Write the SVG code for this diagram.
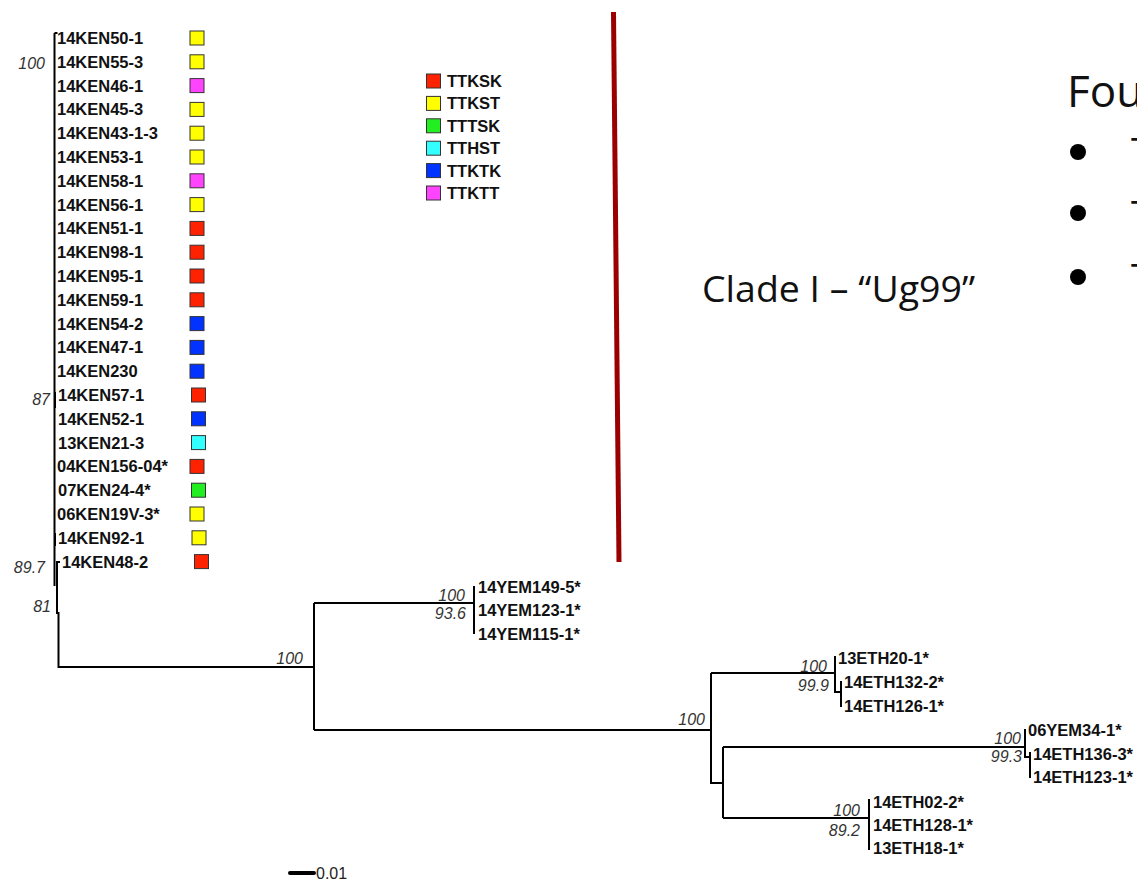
<svg xmlns="http://www.w3.org/2000/svg" width="1137" height="881" viewBox="0 0 1137 881">
<style>
.leaf{font-family:"Liberation Sans",Arial,sans-serif;font-weight:bold;font-size:16.5px;fill:#111}
.bs{font-family:"Liberation Sans",Arial,sans-serif;font-style:italic;font-size:16px;fill:#333;text-anchor:end}
.sq{stroke:#333;stroke-width:1}
.R{fill:#ff2200}.Y{fill:#ffff00}.M{fill:#ff44ff}.B{fill:#0033ff}.C{fill:#33ffff}.G{fill:#22ee22}
.br{fill:none;stroke:#000;stroke-width:2}
.big{font-family:"Open Sans","Noto Sans",sans-serif;fill:#111}
</style>
<rect width="1137" height="881" fill="#fff"/>
<g id="connectors">
<path class="br" d="M54.5,33 V586 M54.5,33 H57.5"/>
<path class="br" stroke-width="3" d="M55,392 V408 M55,533 V546"/>
<path class="br" stroke-width="2.5" d="M57,561 V614 M57,562 H60"/>
<path class="br" d="M58.5,612 V667 H314 M314,603 V730 M314,603 H474 M474,586 V634 M314,730 H711"/>
<path class="br" d="M711,673 V783 H723 M711,673 H835 M835,656 V692 H841 M841,681 V707"/>
<path class="br" d="M723,747 V818 M723,747 H1025 M1025,729 V757 H1030 M1030,752 V778"/>
<path class="br" d="M723,818 H869 M869,799 V850"/>
<path d="M290,873 H314" stroke="#000" stroke-width="4" stroke-linecap="round"/>
</g>
<g id="bootstrap">
<text class="bs" x="45" y="68.5">100</text>
<text class="bs" x="50" y="405">87</text>
<text class="bs" x="45" y="573">89.7</text>
<text class="bs" x="51" y="612">81</text>
<text class="bs" x="465" y="601">100</text>
<text class="bs" x="466" y="619">93.6</text>
<text class="bs" x="303" y="664">100</text>
<text class="bs" x="705" y="725">100</text>
<text class="bs" x="827" y="672">100</text>
<text class="bs" x="829" y="691">99.9</text>
<text class="bs" x="860" y="816">100</text>
<text class="bs" x="860" y="836">89.2</text>
<text class="bs" x="1021" y="744">100</text>
<text class="bs" x="1022" y="762">99.3</text>
<text class="bs" x="1" y="0" opacity="0"></text>
</g>
<g id="n-14KEN50-1"><text class="leaf" x="57" y="44">14KEN50-1</text><rect class="sq Y" x="190" y="31" width="14" height="14"/></g>
<g id="n-14KEN55-3"><text class="leaf" x="57" y="67.8">14KEN55-3</text><rect class="sq Y" x="190" y="54.8" width="14" height="14"/></g>
<g id="n-14KEN46-1"><text class="leaf" x="57" y="91.6">14KEN46-1</text><rect class="sq M" x="190" y="78.6" width="14" height="14"/></g>
<g id="n-14KEN45-3"><text class="leaf" x="57" y="115.4">14KEN45-3</text><rect class="sq Y" x="190" y="102.4" width="14" height="14"/></g>
<g id="n-14KEN43-1-3"><text class="leaf" x="57" y="139.2">14KEN43-1-3</text><rect class="sq Y" x="190" y="126.2" width="14" height="14"/></g>
<g id="n-14KEN53-1"><text class="leaf" x="57" y="163">14KEN53-1</text><rect class="sq Y" x="190" y="150" width="14" height="14"/></g>
<g id="n-14KEN58-1"><text class="leaf" x="57" y="186.8">14KEN58-1</text><rect class="sq M" x="190" y="173.8" width="14" height="14"/></g>
<g id="n-14KEN56-1"><text class="leaf" x="57" y="210.6">14KEN56-1</text><rect class="sq Y" x="190" y="197.6" width="14" height="14"/></g>
<g id="n-14KEN51-1"><text class="leaf" x="57" y="234.4">14KEN51-1</text><rect class="sq R" x="190" y="221.4" width="14" height="14"/></g>
<g id="n-14KEN98-1"><text class="leaf" x="57" y="258.2">14KEN98-1</text><rect class="sq R" x="190" y="245.2" width="14" height="14"/></g>
<g id="n-14KEN95-1"><text class="leaf" x="57" y="282">14KEN95-1</text><rect class="sq R" x="190" y="269" width="14" height="14"/></g>
<g id="n-14KEN59-1"><text class="leaf" x="57" y="305.8">14KEN59-1</text><rect class="sq R" x="190" y="292.8" width="14" height="14"/></g>
<g id="n-14KEN54-2"><text class="leaf" x="57" y="329.6">14KEN54-2</text><rect class="sq B" x="190" y="316.6" width="14" height="14"/></g>
<g id="n-14KEN47-1"><text class="leaf" x="57" y="353.4">14KEN47-1</text><rect class="sq B" x="190" y="340.4" width="14" height="14"/></g>
<g id="n-14KEN230"><text class="leaf" x="57" y="377.2">14KEN230</text><rect class="sq B" x="190" y="364.2" width="14" height="14"/></g>
<g id="n-14KEN57-1"><text class="leaf" x="58" y="401">14KEN57-1</text><rect class="sq R" x="191.5" y="388" width="14" height="14"/></g>
<g id="n-14KEN52-1"><text class="leaf" x="58" y="424.8">14KEN52-1</text><rect class="sq B" x="191.5" y="411.8" width="14" height="14"/></g>
<g id="n-13KEN21-3"><text class="leaf" x="58" y="448.6">13KEN21-3</text><rect class="sq C" x="191.5" y="435.6" width="14" height="14"/></g>
<g id="n-04KEN156-04"><text class="leaf" x="57" y="472.4">04KEN156-04*</text><rect class="sq R" x="190" y="459.4" width="14" height="14"/></g>
<g id="n-07KEN24-4"><text class="leaf" x="58" y="496.2">07KEN24-4*</text><rect class="sq G" x="191.5" y="483.2" width="14" height="14"/></g>
<g id="n-06KEN19V-3"><text class="leaf" x="57" y="520">06KEN19V-3*</text><rect class="sq Y" x="190" y="507" width="14" height="14"/></g>
<g id="n-14KEN92-1"><text class="leaf" x="58" y="543.8">14KEN92-1</text><rect class="sq Y" x="192" y="530.8" width="14" height="14"/></g>
<g id="n-14KEN48-2"><text class="leaf" x="62" y="567.6">14KEN48-2</text><rect class="sq R" x="194.5" y="554.6" width="14" height="14"/></g>
<g id="n-14YEM149-5"><text class="leaf" x="478" y="592.5">14YEM149-5*</text></g>
<g id="n-14YEM123-1"><text class="leaf" x="478" y="616">14YEM123-1*</text></g>
<g id="n-14YEM115-1"><text class="leaf" x="478" y="639.5">14YEM115-1*</text></g>
<g id="n-13ETH20-1"><text class="leaf" x="838" y="664">13ETH20-1*</text></g>
<g id="n-14ETH132-2"><text class="leaf" x="844" y="688">14ETH132-2*</text></g>
<g id="n-14ETH126-1"><text class="leaf" x="844" y="711.5">14ETH126-1*</text></g>
<g id="n-06YEM34-1"><text class="leaf" x="1028" y="736">06YEM34-1*</text></g>
<g id="n-14ETH136-3"><text class="leaf" x="1033" y="760">14ETH136-3*</text></g>
<g id="n-14ETH123-1"><text class="leaf" x="1033" y="783">14ETH123-1*</text></g>
<g id="n-14ETH02-2"><text class="leaf" x="873" y="808">14ETH02-2*</text></g>
<g id="n-14ETH128-1"><text class="leaf" x="873" y="831">14ETH128-1*</text></g>
<g id="n-13ETH18-1"><text class="leaf" x="873" y="854">13ETH18-1*</text></g>
<g id="scale"><text x="316" y="879" font-family="Liberation Sans, Arial, sans-serif" font-size="16" fill="#222">0.01</text></g>
<g id="legend">
<rect class="sq R" x="426.5" y="74" width="14" height="14"/><text class="leaf" x="447" y="87">TTKSK</text>
<rect class="sq Y" x="426.5" y="96.4" width="14" height="14"/><text class="leaf" x="447" y="109.4">TTKST</text>
<rect class="sq G" x="426.5" y="118.8" width="14" height="14"/><text class="leaf" x="447" y="131.8">TTTSK</text>
<rect class="sq C" x="426.5" y="141.2" width="14" height="14"/><text class="leaf" x="447" y="154.2">TTHST</text>
<rect class="sq B" x="426.5" y="163.6" width="14" height="14"/><text class="leaf" x="447" y="176.6">TTKTK</text>
<rect class="sq M" x="426.5" y="186" width="14" height="14"/><text class="leaf" x="447" y="199">TTKTT</text>
</g>
<g id="clade-bar">
<line x1="613.5" y1="12" x2="619" y2="562" stroke="#9b0000" stroke-width="5"/>
<text class="big" x="702" y="302" font-size="36" textLength="273" lengthAdjust="spacingAndGlyphs">Clade I – “Ug99”</text>
</g>
<g id="slide-text">
<text class="big" x="1067" y="107" font-size="44">Fou</text>
<circle cx="1078" cy="152" r="8" fill="#000"/>
<circle cx="1078" cy="213" r="8" fill="#000"/>
<circle cx="1078" cy="277" r="8" fill="#000"/>
<text class="big" x="1131" y="164" font-size="36">T</text>
<text class="big" x="1131" y="227" font-size="36">T</text>
<text class="big" x="1131" y="290" font-size="36">T</text>
</g>
</svg>
